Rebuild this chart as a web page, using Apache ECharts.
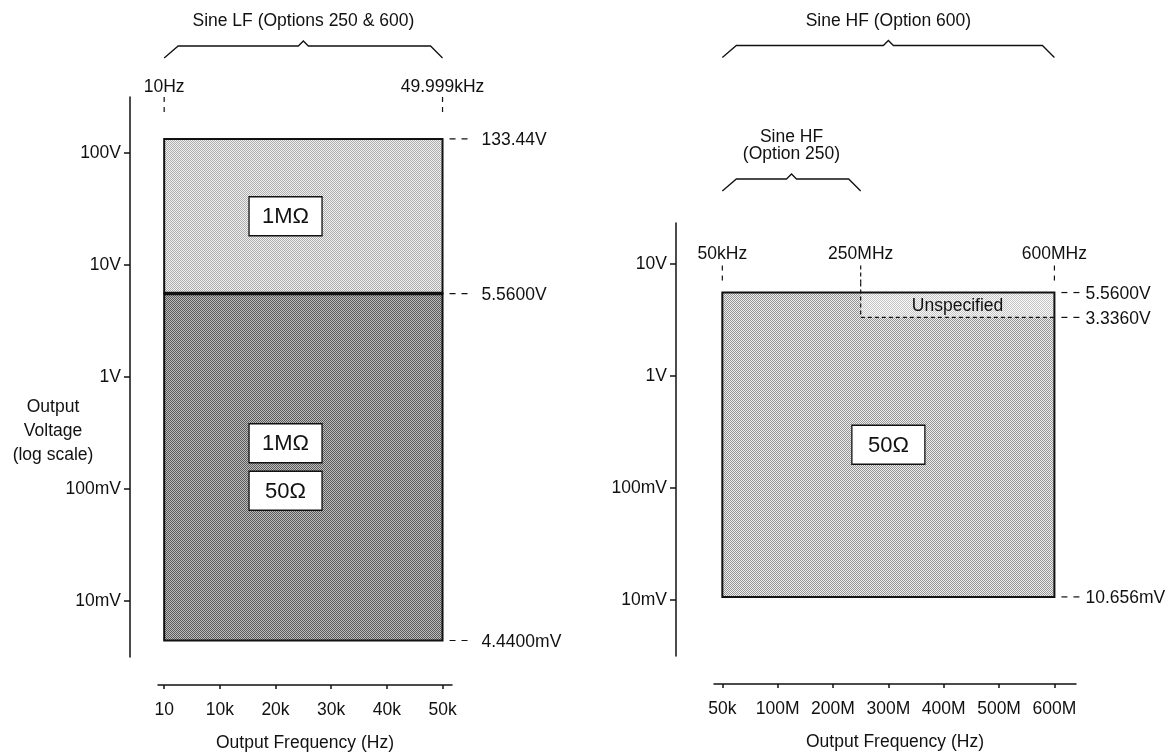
<!DOCTYPE html>
<html>
<head>
<meta charset="utf-8">
<title>Sine output voltage ranges</title>
<script src="https://cdn.jsdelivr.net/npm/echarts@6/dist/echarts.min.js"></script>
<style>
  html, body { margin: 0; padding: 0; background: #fff; }
  #chart { width: 1166px; height: 753px; }
</style>
</head>
<body>
<div id="chart"></div>
<script>
const FONT = '"Liberation Sans", Arial, Helvetica, sans-serif';
const INK = '#111';

// ---- data ----
const lfFreqRange = [10, 49999];                 // Hz
const lfFreqLabels = ['10Hz', '49.999kHz'];
const lfVoltEdges = [0.00444, 5.56, 133.44];     // V
const lfEdgeLabels = ['4.4400mV', '5.5600V', '133.44V'];
const lfBandLoads = [['1MΩ', '50Ω'], ['1MΩ']];

const hfFreqMarks = [50e3, 250e6, 600e6];        // Hz
const hfFreqLabels = ['50kHz', '250MHz', '600MHz'];
const hfVoltEdges = [0.010656, 3.336, 5.56];     // V
const hfEdgeLabels = ['10.656mV', '3.3360V', '5.5600V'];
const hfLoads = ['50Ω'];
const hfUnspecLabel = 'Unspecified';

const lfTickValues = [10, 10e3, 20e3, 30e3, 40e3, 50e3];
const lfTickLabels = ['10', '10k', '20k', '30k', '40k', '50k'];
const hfTickValues = [50e3, 100e6, 200e6, 300e6, 400e6, 500e6, 600e6];
const hfTickLabels = ['50k', '100M', '200M', '300M', '400M', '500M', '600M'];
const voltTickValues = [0.01, 0.1, 1, 10, 100];
const voltTickLabels = ['10mV', '100mV', '1V', '10V', '100V'];

const rangeTitles = ['Sine LF (Options 250 & 600)', 'Sine HF (Option 600)', 'Sine HF\n(Option 250)'];
const rangeSpans = [[10, 49999], [50e3, 600e6], [50e3, 250e6]];

// ---- helpers ----
const log10 = v => Math.log10(v);

function lookup(values, labels) {
  return v => {
    const i = values.findIndex(t => Math.abs(t - v) <= Math.abs(t) * 1e-9 + 1e-9);
    return i < 0 ? '' : labels[i];
  };
}

function checker(a, b) {
  const c = document.createElement('canvas');
  c.width = 2; c.height = 2;
  const g = c.getContext('2d');
  g.fillStyle = a; g.fillRect(0, 0, 2, 2);
  g.fillStyle = b; g.fillRect(0, 0, 1, 1); g.fillRect(1, 1, 1, 1);
  return { image: c, repeat: 'repeat' };
}

const patLfHigh = checker('#f2f2f2', '#acacac');
const patLfLow = checker('#bdbdbd', '#5a5a5a');
const patHf = checker('#ececec', '#969696');
const patUnspec = checker('#fafafa', '#c4c4c4');

const axisText = { color: INK, fontSize: 17.5, fontFamily: FONT };
const F17 = '17.5px ' + FONT;

function xAxisFor(grid, min, max, values, labels) {
  return {
    type: 'value', gridIndex: grid, min, max, offset: 28,
    axisLine: { show: true, onZero: false, lineStyle: { color: INK, width: 1.5 } },
    axisTick: { show: true, customValues: values, length: 4, lineStyle: { color: INK, width: 1.5 } },
    axisLabel: { customValues: values, formatter: lookup(values, labels), margin: 16, ...axisText },
    splitLine: { show: false },
    name: 'Output Frequency (Hz)', nameLocation: 'middle', nameGap: 49,
    nameTextStyle: axisText
  };
}

function yAxisFor(grid, min, max, offset) {
  const logs = voltTickValues.map(log10);
  const vals = logs.filter(v => v >= min && v <= max);
  return {
    type: 'value', gridIndex: grid, min, max, offset,
    axisLine: { show: true, onZero: false, lineStyle: { color: INK, width: 1.5 } },
    axisTick: { show: true, customValues: vals, length: 6, lineStyle: { color: INK, width: 1.5 } },
    axisLabel: { customValues: vals, formatter: lookup(logs, voltTickLabels), margin: 9, ...axisText },
    splitLine: { show: false }
  };
}

function loadBox(cx, cy, text) {
  return [
    { type: 'rect', z2: 20, shape: { x: cx - 36.5, y: cy - 19.5, width: 73, height: 39 },
      style: { fill: '#fff', stroke: INK, lineWidth: 1.3 } },
    { type: 'text', z2: 21, style: { x: cx, y: cy + 1, text, fill: INK, font: '22px ' + FONT,
      align: 'center', verticalAlign: 'middle' } }
  ];
}

function label(x, y, text, align, vAlign) {
  return { type: 'text', z2: 20, style: { x, y, text, fill: INK, font: F17,
    align: align || 'center', verticalAlign: vAlign || 'middle', lineHeight: 17.5 } };
}

function dashed(x1, y1, x2, y2, dash) {
  return { type: 'line', z2: 3, shape: { x1, y1, x2, y2 },
    style: { stroke: INK, lineWidth: 1.2, lineDash: dash } };
}

function brace(x0, x1, base, title) {
  const top = base - 12, mid = (x0 + x1) / 2;
  return [
    { type: 'polyline', shape: { points: [[x0, base], [x0 + 14, top], [mid - 5, top], [mid, top - 5],
      [mid + 5, top], [x1 - 12, top], [x1, base]] }, style: { stroke: INK, lineWidth: 1.3, fill: null } },
    label(mid, top - 16, title, 'center', 'bottom')
  ];
}

function edgeLabels(labels, textGap) {
  return (params, api) => {
    const p = api.coord([api.value(0), api.value(1)]);
    return { type: 'group', children: [
      dashed(p[0] + 7, p[1], p[0] + 25, p[1], [6, 6]),
      label(p[0] + textGap, p[1] + 1.5, labels[api.value(2)], 'left')
    ] };
  };
}

// ---- series ----
const lfBandData = lfBandLoads.map((l, i) =>
  [lfFreqRange[0], lfFreqRange[1], log10(lfVoltEdges[i]), log10(lfVoltEdges[i + 1]), i]);

const series = [
  {
    type: 'custom', name: 'Sine LF', xAxisIndex: 0, yAxisIndex: 0,
    encode: { x: [0, 1], y: [2, 3] }, data: lfBandData,
    renderItem(params, api) {
      const i = api.value(4);
      const tl = api.coord([api.value(0), api.value(3)]);
      const br = api.coord([api.value(1), api.value(2)]);
      const w = br[0] - tl[0], h = br[1] - tl[1];
      const kids = [{ type: 'rect', z2: 1, shape: { x: tl[0], y: tl[1], width: w, height: h },
        style: { fill: i === 0 ? patLfLow : patLfHigh, stroke: INK, lineWidth: 2 } }];
      if (i === 0) {
        kids.push({ type: 'line', z2: 5, shape: { x1: tl[0], y1: tl[1], x2: br[0], y2: tl[1] },
          style: { stroke: INK, lineWidth: 3.5 } });
      }
      const loads = lfBandLoads[i];
      const cx = tl[0] + w * 0.436, cy = tl[1] + h / 2;
      loads.forEach((t, k) => kids.push(...loadBox(cx, cy + (k - (loads.length - 1) / 2) * 47.5, t)));
      return { type: 'group', children: kids };
    }
  },
  {
    type: 'custom', name: 'LF edges', xAxisIndex: 0, yAxisIndex: 0,
    encode: { x: 0, y: 1 },
    data: lfVoltEdges.map((v, i) => [lfFreqRange[1], log10(v), i]),
    renderItem: edgeLabels(lfEdgeLabels, 39)
  },
  {
    type: 'custom', name: 'LF marks', xAxisIndex: 0, yAxisIndex: 0,
    encode: { x: 0, y: 1 },
    data: lfFreqRange.map((f, i) => [f, 0, i]),
    renderItem(params, api) {
      const x = api.coord([api.value(0), 0])[0];
      const top = params.coordSys.y;
      return { type: 'group', children: [
        dashed(x, top, x, top + 15, [5, 5]),
        label(x, top - 10, lfFreqLabels[api.value(2)])
      ] };
    }
  },
  {
    type: 'custom', name: 'Sine HF', xAxisIndex: 1, yAxisIndex: 1,
    encode: { x: [0, 1], y: [2, 3] },
    data: [[hfFreqMarks[0], hfFreqMarks[2], log10(hfVoltEdges[0]), log10(hfVoltEdges[2])]],
    renderItem(params, api) {
      const tl = api.coord([api.value(0), api.value(3)]);
      const br = api.coord([api.value(1), api.value(2)]);
      const w = br[0] - tl[0], h = br[1] - tl[1];
      return { type: 'group', children: [
        { type: 'rect', z2: 1, shape: { x: tl[0], y: tl[1], width: w, height: h }, style: { fill: patHf } },
        { type: 'rect', z2: 10, shape: { x: tl[0], y: tl[1], width: w, height: h },
          style: { fill: null, stroke: INK, lineWidth: 2 } },
        ...loadBox(tl[0] + w / 2, tl[1] + h / 2, hfLoads[0])
      ] };
    }
  },
  {
    type: 'custom', name: 'Unspecified', xAxisIndex: 1, yAxisIndex: 1,
    encode: { x: [0, 1], y: [2, 3] },
    data: [[hfFreqMarks[1], hfFreqMarks[2], log10(hfVoltEdges[1]), log10(hfVoltEdges[2])]],
    renderItem(params, api) {
      const tl = api.coord([api.value(0), api.value(3)]);
      const br = api.coord([api.value(1), api.value(2)]);
      return { type: 'group', children: [
        { type: 'rect', z2: 2, shape: { x: tl[0], y: tl[1], width: br[0] - tl[0], height: br[1] - tl[1] },
          style: { fill: patUnspec } },
        { type: 'polyline', z2: 3, shape: { points: [[tl[0], tl[1] - 10], [tl[0], br[1]], [br[0], br[1]]] },
          style: { stroke: INK, lineWidth: 1.2, lineDash: [4, 3], fill: null } },
        label((tl[0] + br[0]) / 2, (tl[1] + br[1]) / 2 + 1, hfUnspecLabel)
      ] };
    }
  },
  {
    type: 'custom', name: 'HF edges', xAxisIndex: 1, yAxisIndex: 1,
    encode: { x: 0, y: 1 },
    data: hfVoltEdges.map((v, i) => [hfFreqMarks[2], log10(v), i]),
    renderItem: edgeLabels(hfEdgeLabels, 31)
  },
  {
    type: 'custom', name: 'HF marks', xAxisIndex: 1, yAxisIndex: 1,
    encode: { x: 0, y: 1 },
    data: hfFreqMarks.map((f, i) => [f, log10(hfVoltEdges[2]), i]),
    renderItem(params, api) {
      const p = api.coord([api.value(0), api.value(1)]);
      const dash = api.value(2) === 1 ? [4, 3] : [5, 5];
      return { type: 'group', children: [
        label(p[0], p[1] - 38, hfFreqLabels[api.value(2)]),
        dashed(p[0], p[1] - 27, p[0], p[1] - 10, dash)
      ] };
    }
  },
  {
    type: 'custom', name: 'LF range', xAxisIndex: 0, yAxisIndex: 0,
    encode: { x: [0, 1], y: 2 },
    data: [[rangeSpans[0][0], rangeSpans[0][1], 0, 0]],
    renderItem(params, api) {
      const a = api.coord([api.value(0), 0])[0], b = api.coord([api.value(1), 0])[0];
      return { type: 'group', children: brace(a, b, 58, rangeTitles[0]) };
    }
  },
  {
    type: 'custom', name: 'HF ranges', xAxisIndex: 1, yAxisIndex: 1,
    encode: { x: [0, 1], y: 2 },
    data: [[rangeSpans[1][0], rangeSpans[1][1], 0, 1], [rangeSpans[2][0], rangeSpans[2][1], 0, 2]],
    renderItem(params, api) {
      const i = api.value(3);
      const a = api.coord([api.value(0), 0])[0], b = api.coord([api.value(1), 0])[0];
      return { type: 'group', children: brace(a, b, i === 1 ? 57.5 : 191, rangeTitles[i]) };
    }
  }
];

const chart = echarts.init(document.getElementById('chart'), null, { renderer: 'canvas' });
chart.setOption({
  animation: false,
  backgroundColor: '#fff',
  textStyle: { fontFamily: FONT },
  grid: [
    { left: 158, top: 97, width: 294, height: 560, outerBoundsMode: 'none' },
    { left: 714, top: 223, width: 362, height: 433, outerBoundsMode: 'none' }
  ],
  xAxis: [
    xAxisFor(0, -1100, 51700, lfTickValues, lfTickLabels),
    xAxisFor(1, -15e6, 639e6, hfTickValues, hfTickLabels)
  ],
  yAxis: [
    yAxisFor(0, -2.5, 2.5, 28),
    yAxisFor(1, -2.5, 1.366, 38)
  ],
  graphic: [{
    type: 'text', x: 53, y: 431,
    style: { text: 'Output\nVoltage\n(log scale)', fill: INK, font: F17,
      align: 'center', verticalAlign: 'middle', lineHeight: 24 }
  }],
  series
});
window.addEventListener('resize', () => chart.resize());
</script>
</body>
</html>
